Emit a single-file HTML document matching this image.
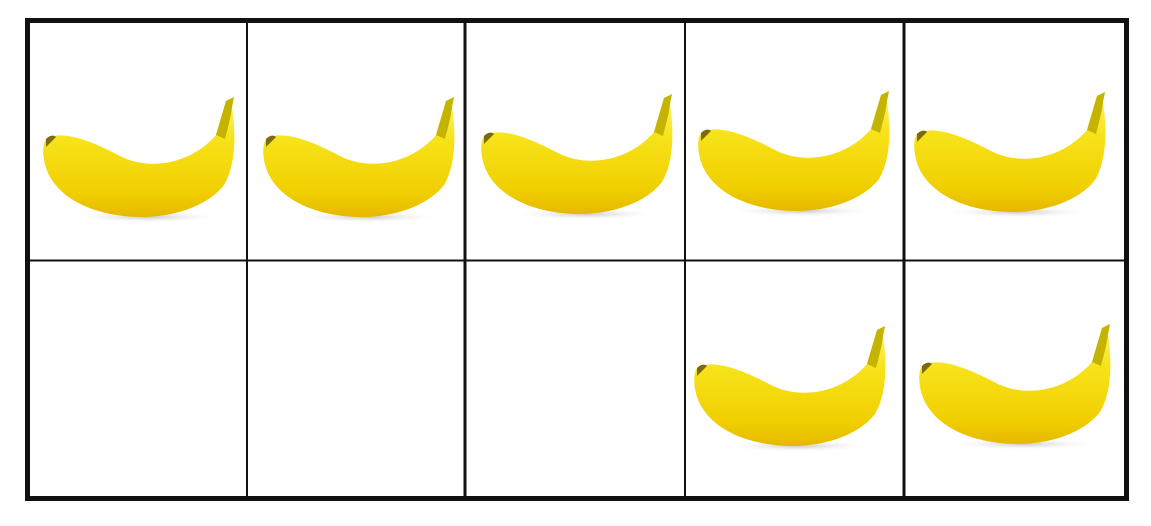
<!DOCTYPE html>
<html><head><meta charset="utf-8"><style>html,body{margin:0;padding:0;background:#fff;}svg{display:block;}</style></head>
<body>
<svg width="1151" height="526" viewBox="0 0 1151 526">
<defs>
<linearGradient id="bg" x1="0" y1="0" x2="0" y2="1">
<stop offset="0" stop-color="#fff27a"/><stop offset="0.35" stop-color="#f7e31a"/><stop offset="0.8" stop-color="#f0cf00"/><stop offset="1" stop-color="#e6b800"/>
</linearGradient>
<radialGradient id="sh" cx="0.5" cy="0.5" r="0.5"><stop offset="0" stop-color="#c8c8c8"/><stop offset="1" stop-color="#fff" stop-opacity="0"/></radialGradient>
<g id="banana">
<ellipse cx="105" cy="124" rx="75" ry="6" fill="url(#sh)"/>
<path d="M4,46 C20,36 50,48 80,64 C110,78 150,70 174,42 L184,8 L192,4 L190,14 C194,40 194,72 182,92 C165,114 130,124 100,124 C60,124 20,110 6,80 C0,66 0,52 4,46 Z" fill="url(#bg)"/>
<path d="M174,42 L184,8 L192,4 L190,14 C189,24 186,34 183,46 Z" fill="#c4b400"/>
<path d="M4,46 C8,42 12,42 14,44 C10,48 6,52 4,54 Z" fill="#7a6a10"/>
</g>
</defs>
<rect x="0" y="0" width="1151" height="526" fill="#fff"/>
<g stroke="#111" fill="none">
<rect x="27.5" y="20.5" width="1099" height="478" stroke-width="5"/>
<line x1="27" y1="260.5" x2="1127" y2="260.5" stroke-width="2"/>
<line x1="247" y1="20" x2="247" y2="499" stroke-width="2"/>
<line x1="465" y1="20" x2="465" y2="499" stroke-width="3"/>
<line x1="685" y1="20" x2="685" y2="499" stroke-width="2"/>
<line x1="904" y1="20" x2="904" y2="499" stroke-width="3"/>
</g>
<use href="#banana" x="42" y="93"/>
<use href="#banana" x="262" y="93"/>
<use href="#banana" x="480" y="90"/>
<use href="#banana" x="697" y="87"/>
<use href="#banana" x="913" y="88"/>
<use href="#banana" x="693" y="322"/>
<use href="#banana" x="918" y="320"/>
</svg>
</body></html>
